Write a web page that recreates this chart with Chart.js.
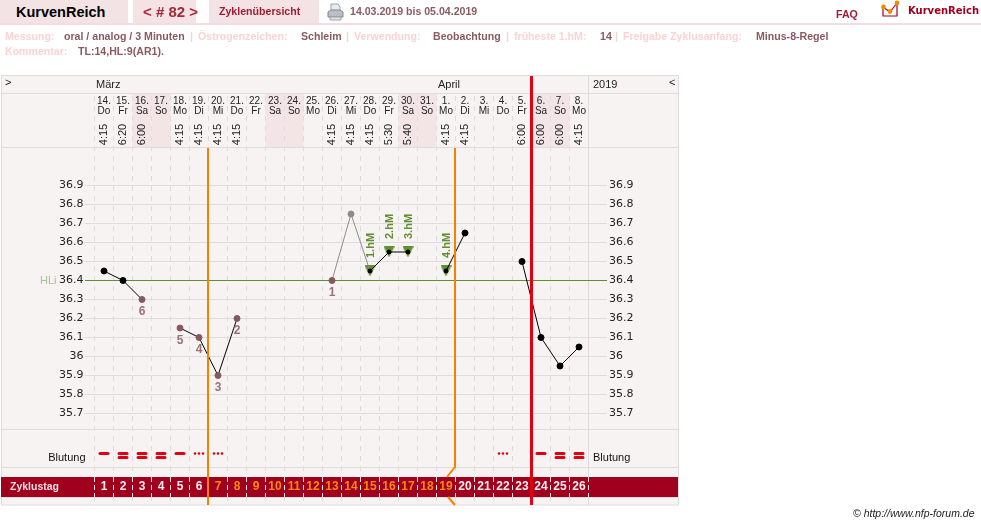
<!DOCTYPE html>
<html lang="de">
<head>
<meta charset="utf-8">
<title>KurvenReich</title>
<script src="https://cdn.jsdelivr.net/npm/chart.js@4"></script>
<style>
  html, body { margin: 0; padding: 0; background: #fff; overflow: hidden; }
  body { width: 981px; height: 525px; position: relative; font-family: "Liberation Sans", Arial, sans-serif; }
  #chart { position: absolute; left: 0; top: 0; }
  .rule { position: absolute; left: 0; top: 23px; width: 981px; height: 2px; background: #f3dde0; }
  .tab { position: absolute; top: 0; height: 23px; background: #f3e3e5; }
  .t { position: absolute; white-space: nowrap; font-weight: bold; font-size: 10.6px; line-height: 13px; }
  .pink { color: #fbd3d3; }
  .val { color: #8a5a60; }
  svg { position: absolute; }
</style>
</head>
<body>
<canvas id="chart" width="981" height="525"></canvas>

<div class="tab" style="left:0;width:128px"></div>
<div class="tab" style="left:133px;width:63px"></div>
<div class="tab" style="left:209px;width:110px"></div>
<div class="rule"></div>
<span class="t" style="left:16px;top:4px;font-size:14.5px;line-height:17px;color:#000">KurvenReich</span>
<span class="t" style="left:143px;top:3px;font-size:15px;line-height:18px;color:#a62a3c">&lt; # 82 &gt;</span>
<span class="t" style="left:219px;top:5px;color:#a01c32">Zyklenübersicht</span>
<span class="t val" style="left:350px;top:5px">14.03.2019 bis 05.04.2019</span>
<span class="t" style="left:836px;top:8px;color:#a01c32">FAQ</span>
<span class="t" style="left:908px;top:4px;font-family:'DejaVu Sans';font-size:10px;color:#a0001e">KurvenReich</span>

<!-- printer -->
<svg style="left:327px;top:3px" width="17" height="18" viewBox="0 0 17 18">
  <path d="M4 1h7l2 3v5H4z" fill="#e8ecee" stroke="#9aa3a8"/>
  <path d="M1 9l3-2h9l3 2v5H1z" fill="#b9c0c4" stroke="#7f878c"/>
  <path d="M3 14h11v3H3z" fill="#dfe3e5" stroke="#9aa3a8"/>
</svg>
<!-- logo -->
<svg style="left:880px;top:0" width="24" height="18" viewBox="0 0 24 18">
  <path d="M3 8v8h14V3" fill="none" stroke="#a0001e" stroke-width="1.2"/>
  <path d="M3 7l7 5 7-9" fill="none" stroke="#a0001e" stroke-width="1.2"/>
  <circle cx="3.5" cy="7" r="2.4" fill="#f28c00"/>
  <circle cx="10" cy="11.5" r="2.4" fill="#f28c00"/>
  <circle cx="17" cy="3" r="2.4" fill="#f28c00"/>
</svg>

<span class="t pink" style="left:5px;top:30px">Messung:</span>
<span class="t val" style="left:64px;top:30px">oral / analog / 3 Minuten</span>
<span class="t pink" style="left:190px;top:30px">|</span>
<span class="t pink" style="left:198px;top:30px">Östrogenzeichen:</span>
<span class="t val" style="left:301px;top:30px">Schleim</span>
<span class="t pink" style="left:346px;top:30px">|</span>
<span class="t pink" style="left:354px;top:30px">Verwendung:</span>
<span class="t val" style="left:433px;top:30px">Beobachtung</span>
<span class="t pink" style="left:506px;top:30px">|</span>
<span class="t pink" style="left:514px;top:30px">früheste 1.hM:</span>
<span class="t val" style="left:600px;top:30px">14</span>
<span class="t pink" style="left:615px;top:30px">|</span>
<span class="t pink" style="left:623px;top:30px">Freigabe Zyklusanfang:</span>
<span class="t val" style="left:756px;top:30px">Minus-8-Regel</span>
<span class="t pink" style="left:5px;top:45px">Kommentar:</span>
<span class="t val" style="left:78px;top:45px">TL:14,HL:9(AR1).</span>

<span class="t" style="left:853px;top:507px;font-weight:normal;font-style:italic;font-size:10.5px;color:#222">© http://www.nfp-forum.de</span>

<script>
// ================== data ======================
const dayNumbers = ["14.", "15.", "16.", "17.", "18.", "19.", "20.", "21.", "22.", "23.", "24.", "25.", "26.",
  "27.", "28.", "29.", "30.", "31.", "1.", "2.", "3.", "4.", "5.", "6.", "7.", "8."];
const weekdays = ["Do", "Fr", "Sa", "So", "Mo", "Di", "Mi", "Do", "Fr", "Sa", "So", "Mo", "Di",
  "Mi", "Do", "Fr", "Sa", "So", "Mo", "Di", "Mi", "Do", "Fr", "Sa", "So", "Mo"];
const times = ["4:15", "6:20", "6:00", "", "4:15", "4:15", "4:15", "4:15", "", "", "", "", "4:15",
  "4:15", "4:15", "5:30", "5:40", "", "4:15", "4:15", "", "", "6:00", "6:00", "6:00", "4:15"];
const cycleDays = ["1", "2", "3", "4", "5", "6", "7", "8", "9", "10", "11", "12", "13",
  "14", "15", "16", "17", "18", "19", "20", "21", "22", "23", "24", "25", "26"];
const temperatures = [36.45, 36.4, 36.3, null, 36.15, 36.1, 35.9, 36.2, null, null, null, null, 36.4,
  36.75, 36.45, 36.55, 36.55, null, 36.45, 36.65, null, null, 36.5, 36.1, 35.95, 36.05];
// what the point counts as: k = black, m = counted low day, g = left out
const pointKinds = ["k", "k", "m", "", "m", "m", "m", "m", "", "", "", "", "m",
  "g", "k", "k", "k", "", "k", "k", "", "", "k", "k", "k", "k"];
const lowDayLabels = ["", "", "6", "", "5", "4", "3", "2", "", "", "", "", "1",
  "", "", "", "", "", "", "", "", "", "", "", "", ""];
const peakLabels = ["", "", "", "", "", "", "", "", "", "", "", "", "",
  "", "1.hM", "2.hM", "3.hM", "", "4.hM", "", "", "", "", "", "", ""];
// 0 none, 1 spotting, 2 light, 3 normal
const bleeding = [2, 3, 3, 3, 2, 1, 1, 0, 0, 0, 0, 0, 0, 0, 0, 0, 0, 0, 0, 0, 0, 1, 0, 2, 3, 3];
const months = [["März", 0], ["April", 18]];
const tempTicks = [36.9, 36.8, 36.7, 36.6, 36.5, 36.4, 36.3, 36.2, 36.1, 36, 35.9, 35.8, 35.7];
const coverLine = 36.4;
const orangeFrom = 7; // orange numbers run from this cycle day ...
const orangeTo = 19; // ... to this one

const BG = "#f8f3f3";
const LINE = "#dedcdc";
const WEEKEND = "#f3e4e5";
const BAR = "#a0001e";
const ORANGE = "#f88000";
const RED = "#e00012";
const GREEN = "#5f8f2e";
const MAUVE = "#85595f";
const MAUVE_TEXT = "#9a7077";
const SANS = "'Liberation Sans', Arial, sans-serif";

const pointColor = (kind) => (kind === "m" ? MAUVE : kind === "g" ? "#8d8d8d" : "#000");

// left edge of a column
function colLeft(chart, i) {
  const x = chart.scales.x;
  return x.getPixelForValue(i) - (x.getPixelForValue(1) - x.getPixelForValue(0)) / 2;
}

function hLine(ctx, y, x1, x2, color) {
  ctx.strokeStyle = color;
  ctx.lineWidth = 1;
  ctx.beginPath();
  ctx.moveTo(x1, y);
  ctx.lineTo(x2, y);
  ctx.stroke();
}

function text(ctx, str, x, y, font, color, align) {
  ctx.font = font;
  ctx.fillStyle = color;
  ctx.textAlign = align || "left";
  ctx.textBaseline = "middle";
  ctx.fillText(str, x, y);
}

// green marker, centred on the point
function peakMarker() {
  const c = document.createElement("canvas");
  c.width = 11;
  c.height = 11;
  const g = c.getContext("2d");
  g.fillStyle = GREEN;
  g.beginPath();
  g.moveTo(0, 0);
  g.lineTo(11, 0);
  g.lineTo(5.5, 11);
  g.closePath();
  g.fill();
  return c;
}

// ================== frame, header and rows ======================
const tablePlugin = {
  id: "table",
  beforeDraw(chart) {
    const ctx = chart.ctx;
    ctx.save();
    ctx.fillStyle = BG;
    ctx.fillRect(1, 76, 677, 429);
    // weekend columns in the date row
    const w = colLeft(chart, 1) - colLeft(chart, 0);
    weekdays.forEach((d, i) => {
      if (d === "Sa" || d === "So") {
        ctx.fillStyle = WEEKEND;
        ctx.fillRect(colLeft(chart, i), 93, w, 54.5);
      }
    });
    ctx.restore();
  },
  beforeDatasetsDraw(chart) {
    const ctx = chart.ctx;
    const xs = chart.scales.x;
    const ys = chart.scales.y;
    ctx.save();
    // month row hides the dashes
    ctx.fillStyle = BG;
    ctx.fillRect(1, 76, 677, 17);
    // left of the day columns
    ctx.strokeStyle = LINE;
    ctx.lineWidth = 1;
    ctx.strokeRect(1.5, 75.5, 677, 429.5);
    [93.5, 147.5, 429.5, 467.5].forEach((y) => hLine(ctx, y, 1, 678, LINE));
    ctx.beginPath();
    ctx.moveTo(588.5, 76);
    ctx.lineTo(588.5, 505);
    ctx.stroke();

    // header texts
    text(ctx, ">", 5, 83, "11px " + SANS, "#222");
    text(ctx, "<", 669, 83, "11px " + SANS, "#222");
    text(ctx, "2019", 593, 85, "11px " + SANS, "#222");
    months.forEach(([name, i]) => text(ctx, name, colLeft(chart, i) + 1.5, 85, "11px " + SANS, "#222"));
    dayNumbers.forEach((d, i) => {
      const x = xs.getPixelForValue(i);
      text(ctx, d, x, 101.5, "10px " + SANS, "#222", "center");
      text(ctx, weekdays[i], x, 111.5, "10px " + SANS, "#222", "center");
      if (times[i]) {
        ctx.save();
        ctx.translate(x, 134.5);
        ctx.rotate(-Math.PI / 2);
        text(ctx, times[i], 0, 0, "11px " + SANS, "#222", "center");
        ctx.restore();
      }
    });

    // cover line with its stub left and right
    const hl = Math.round(ys.getPixelForValue(coverLine)) + 0.5;
    hLine(ctx, hl, 85, 607, GREEN);
    text(ctx, "HLi", 40, hl, "11px " + SANS, "#a9c08f");

    // bleeding row
    text(ctx, "Blutung", 85.5, 458, "11px " + SANS, "#111", "right");
    text(ctx, "Blutung", 593, 458, "11px " + SANS, "#111");
    ctx.fillStyle = RED;
    bleeding.forEach((b, i) => {
      const x = xs.getPixelForValue(i);
      if (b === 1) {
        [-4, 0, 4].forEach((dx) => {
          ctx.beginPath();
          ctx.arc(x + dx, 453.5, 1.3, 0, Math.PI * 2);
          ctx.fill();
        });
      } else if (b === 2) {
        ctx.beginPath();
        ctx.roundRect(x - 5.5, 452, 11, 3, 1.5);
        ctx.fill();
      } else if (b === 3) {
        ctx.beginPath();
        ctx.roundRect(x - 5.5, 452, 11, 3, 1.5);
        ctx.roundRect(x - 5.5, 456, 11, 3, 1.5);
        ctx.fill();
      }
    });

    // cycle day bar
    ctx.fillStyle = BAR;
    ctx.fillRect(1, 477, 677, 20);
    hLine(ctx, 497.5, 1, 678, LINE);
    text(ctx, "Zyklustag", 10, 487, "bold 10.5px " + SANS, "#f4dfe2");
    ctx.strokeStyle = "#f0e2e4";
    ctx.lineWidth = 1;
    ctx.setLineDash([5, 3]);
    for (let i = 0; i <= cycleDays.length; i++) {
      const x = colLeft(chart, i);
      ctx.beginPath();
      ctx.moveTo(x, 477);
      ctx.lineTo(x, 497);
      ctx.stroke();
    }
    ctx.setLineDash([]);
    cycleDays.forEach((d, i) => {
      const n = i + 1;
      const color = n >= orangeFrom && n <= orangeTo ? "#f58a10" : "#f8eef0";
      text(ctx, d, xs.getPixelForValue(i), 487, "bold 12px " + SANS, color, "center");
    });
    ctx.restore();
  },
  afterDatasetsDraw(chart) {
    const ctx = chart.ctx;
    const xs = chart.scales.x;
    const ys = chart.scales.y;
    ctx.save();

    // coloured rules lie over the curve; the second orange one bends away behind the bar
    const o1 = colLeft(chart, 6) - 0.5;
    const o2 = colLeft(chart, 19) - 0.5;
    ctx.strokeStyle = ORANGE;
    ctx.lineWidth = 2;
    ctx.beginPath();
    ctx.moveTo(o1, 148);
    ctx.lineTo(o1, 505);
    ctx.moveTo(o2, 148);
    ctx.lineTo(o2, 467);
    ctx.lineTo(o2 - 8, 477);
    ctx.moveTo(o2 - 7, 497);
    ctx.lineTo(o2, 505);
    ctx.stroke();
    ctx.fillStyle = RED;
    ctx.fillRect(colLeft(chart, 23) - 1.5, 76, 3, 429);

    temperatures.forEach((t, i) => {
      if (t === null) return;
      const x = xs.getPixelForValue(i);
      const y = ys.getPixelForValue(t);
      if (lowDayLabels[i]) {
        text(ctx, lowDayLabels[i], x, y + 12.5, "bold 12px " + SANS, MAUVE_TEXT, "center");
      }
      if (peakLabels[i]) {
        ctx.save();
        ctx.translate(x + 0.5, y - 13);
        ctx.rotate(-Math.PI / 2);
        text(ctx, peakLabels[i], 0, 0, "bold 11px " + SANS, GREEN);
        ctx.restore();
      }
    });
    ctx.restore();
  },
};

// ================== temperature chart ======================
new Chart(document.getElementById("chart"), {
  type: "line",
  plugins: [tablePlugin],
  data: {
    labels: cycleDays,
    datasets: [
      {
        label: "Temperatur",
        data: temperatures,
        order: 1,
        borderColor: "#000",
        borderWidth: 1,
        tension: 0,
        spanGaps: false,
        pointRadius: temperatures.map((t, i) => (peakLabels[i] ? 2 : 3)),
        pointBackgroundColor: pointKinds.map(pointColor),
        pointBorderColor: pointKinds.map(pointColor),
        segment: {
          borderColor: (c) => (pointKinds[c.p0DataIndex] === "g" || pointKinds[c.p1DataIndex] === "g" ? "#8d8d8d" : "#000"),
        },
      },
      {
        label: "Hochlagen",
        data: temperatures.map((t, i) => (peakLabels[i] ? t : null)),
        order: 2,
        showLine: false,
        pointStyle: peakMarker(),
      },
    ],
  },
  options: {
    responsive: false,
    animation: false,
    devicePixelRatio: 1,
    layout: { padding: { top: 76, bottom: 20, left: 0, right: 0 } },
    plugins: { legend: { display: false }, tooltip: { enabled: false } },
    scales: {
      x: {
        offset: true,
        afterFit: (s) => { s.height = 0; },
        grid: { offset: true, color: LINE, drawTicks: false },
        border: { display: false, dash: [5, 5] },
        ticks: { display: false },
      },
      y: {
        min: 35.2184,
        max: 37.4763,
        afterFit: (s) => { s.width = 94.5; },
        afterBuildTicks: (s) => { s.ticks = tempTicks.map((v) => ({ value: v })); },
        grid: { color: LINE, tickLength: 10 },
        border: { display: false },
        ticks: {
          autoSkip: false,
          padding: 1,
          color: "#222",
          font: { family: "'DejaVu Sans'", size: 11 },
          callback: (v) => String(v),
        },
      },
      y2: {
        position: "right",
        min: 35.2184,
        max: 37.4763,
        afterFit: (s) => { s.width = 392.5; },
        afterBuildTicks: (s) => { s.ticks = tempTicks.map((v) => ({ value: v })); },
        grid: { color: LINE, tickLength: 18.5, drawOnChartArea: false },
        border: { display: false },
        ticks: {
          autoSkip: false,
          padding: 2,
          color: "#222",
          font: { family: "'DejaVu Sans'", size: 11 },
          callback: (v) => String(v),
        },
      },
    },
  },
});
</script>
</body>
</html>
